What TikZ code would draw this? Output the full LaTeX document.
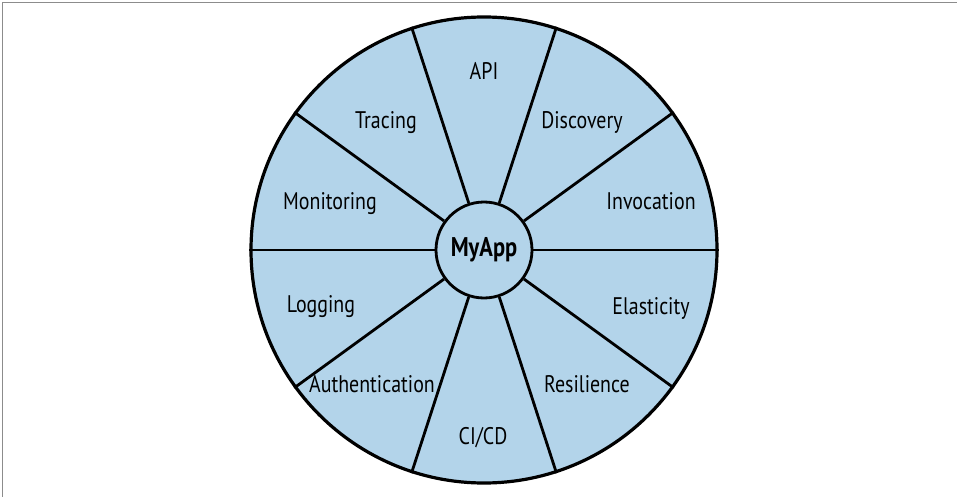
\documentclass[tikz,border=0pt]{standalone}
\usepackage{fontspec}
\setmainfont{PT Sans}[FakeStretch=0.83]
\definecolor{wheelfill}{HTML}{B3D4EA}
\definecolor{framegray}{HTML}{8C8C8C}
\tikzset{
  ring/.style={circle, draw, line width=3.2pt, fill=wheelfill, minimum size=466pt, inner sep=0pt},
  hub/.style={circle, draw, line width=2.8pt, fill=wheelfill, minimum size=96pt, inner sep=0pt, font=\fontsize{27}{31}\selectfont\bfseries},
  spoke/.style={line width=2.8pt},
  part/.style={anchor=base, inner sep=0pt, font=\fontsize{24}{28}\selectfont}
}
\begin{document}
\begin{tikzpicture}[x=1pt, y=-1pt]
  \useasboundingbox (0,0) rectangle (957,497);
  \draw[framegray, line width=1.6pt] (2.5,497) -- (2.5,2.5) -- (957,2.5);
  \node (wheel) at (484,250) [ring] {};
  \node (app) at (484,250) [hub] {MyApp};
  \foreach \a in {0,36,...,324}
    \draw[spoke] (app.\a) -- (wheel.\a);
  \node (api) at (484,80) [part] {API};
  \node (disc) at (582,129) [part] {Discovery};
  \node (inv) at (651,209) [part] {Invocation};
  \node (elas) at (651,314) [part] {Elasticity};
  \node (resil) at (587,392) [part] {Resilience};
  \node (cicd) at (483,444) [part] {CI/CD};
  \node (auth) at (372,392) [part] {Authentication};
  \node (log) at (321,312) [part] {Logging};
  \node (mon) at (330,209) [part] {Monitoring};
  \node (trac) at (386,129) [part] {Tracing};
\end{tikzpicture}
\end{document}
